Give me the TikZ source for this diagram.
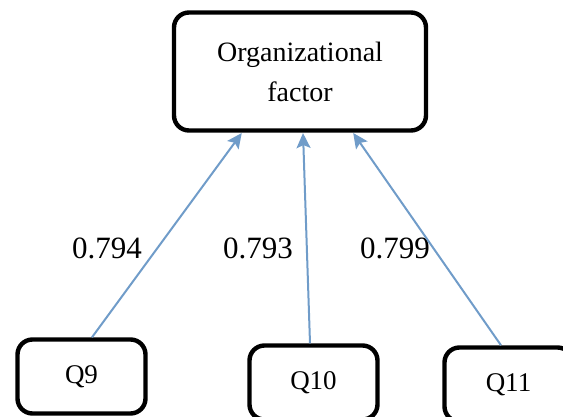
\documentclass[tikz,border=0pt]{standalone}
\usepackage{fontspec}
\setmainfont{Liberation Serif}
\usetikzlibrary{arrows.meta,positioning}

\definecolor{arrowblue}{RGB}{112,156,201}

\begin{document}
\begin{tikzpicture}[x=0.5pt,y=-0.5pt,
    factorbox/.style={shape=rectangle,draw,line width=2.2pt,rounded corners=7.5pt,align=center,
        minimum width=126pt,minimum height=59pt,font=\fontsize{14}{20}\selectfont},
    itembox/.style={shape=rectangle,draw,line width=2.2pt,rounded corners=7.5pt,
        minimum width=64pt,minimum height=37pt,font=\fontsize{13.5}{16}\selectfont},
    loading/.style={font=\fontsize{15.5}{18}\selectfont},
    link/.style={-{Stealth[length=7.5pt,width=7pt,inset=1.5pt]},draw=arrowblue,fill=arrowblue,line width=1pt,shorten >=0.2pt}]
    \useasboundingbox (0,0) rectangle (563,417);
	% create the nodes
    \node (factor) [factorbox] at (300,71.5) {Organizational\\factor};
    \node (q9) [itembox] at (81.5,376.5) {Q9};
    \node (q10) [itembox] at (313.5,382.5) {Q10};
    \node (q11) [itembox] at (508.5,384.5) {Q11};
    \node (w9) [loading] at (107,248) {0.794};
    \node (w10) [loading] at (258,248) {0.793};
    \node (w11) [loading] at (395,248) {0.799};

	% connect the nodes
	\draw[link] ([xshift=5.25pt]q9.north) to ([xshift=-29pt]factor.south);
	\draw[link] ([xshift=-1.75pt]q10.north) to ([xshift=1.5pt]factor.south);
	\draw[link] ([xshift=-3.75pt]q11.north) to ([xshift=26.5pt]factor.south);

\end{tikzpicture}
\end{document}
